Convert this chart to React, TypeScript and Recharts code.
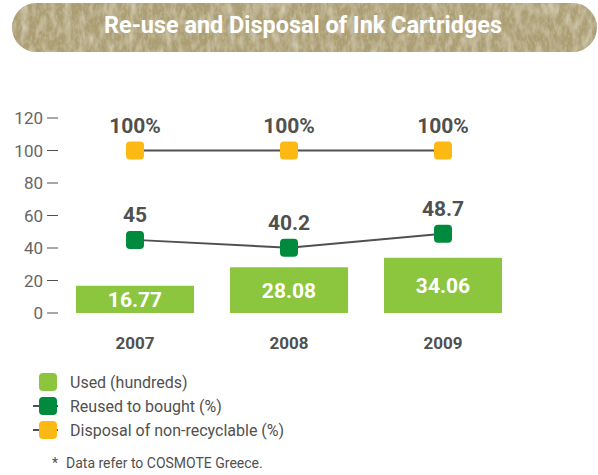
import { ComposedChart, Bar, Line, XAxis, YAxis, LabelList } from "recharts";

const years = ["2007", "2008", "2009"];
const usedHundreds = [16.77, 28.08, 34.06];
const reusedPct = [45, 40.2, 48.7];
const disposalPct = [100, 100, 100];
const yTicks = [0, 20, 40, 60, 80, 100, 120];

const LIGHT_GREEN = "#8cc63f";
const DARK_GREEN = "#008a3d";
const YELLOW = "#fcb813";
const GREY = "#505050";
const FONT = "Roboto, 'Open Sans', sans-serif";

const data = years.map((year, i) => ({
  year,
  used: usedHundreds[i],
  reused: reusedPct[i],
  disposal: disposalPct[i],
}));

const squareDot = (color: string) => (props: any) => {
  const { cx, cy, key } = props;
  if (cx == null || cy == null) return null;
  return <rect key={key} x={cx - 9} y={cy - 9} width={18} height={18} rx={4} fill={color} />;
};

const pointLabel = (suffix: string) => (props: any) => {
  const { x, y, value } = props;
  return (
    <text x={x} y={y - 25} textAnchor="middle" dominantBaseline="central" fill={GREY} fontSize={21} fontWeight={700} fontFamily={FONT}>
      {value}
      {suffix}
    </text>
  );
};

const YearTick = (props: any) => {
  const { x, y, payload } = props;
  return (
    <text x={x} y={y + 28} textAnchor="middle" dominantBaseline="central" fill={GREY} fontSize={17} fontWeight={700} fontFamily={FONT}>
      {payload.value}
    </text>
  );
};

// textured pill banner for the title
const Title = () => (
  <svg width={598} height={56} style={{ position: "absolute", left: 0, top: 0 }}>
    <defs>
      <filter id="lightGrain" x="0" y="0" width="100%" height="100%">
        <feTurbulence type="fractalNoise" baseFrequency="0.14 0.06" numOctaves={3} seed={4} />
        <feColorMatrix type="matrix" values="0 0 0 0 0.76  0 0 0 0 0.72  0 0 0 0 0.6  1.5 0 0 0 -0.6" />
        <feComposite in2="SourceGraphic" operator="in" />
      </filter>
      <filter id="darkGrain" x="0" y="0" width="100%" height="100%">
        <feTurbulence type="fractalNoise" baseFrequency="0.4 0.2" numOctaves={2} seed={11} />
        <feColorMatrix type="matrix" values="0 0 0 0 0.58  0 0 0 0 0.54  0 0 0 0 0.32  1.6 0 0 0 -0.75" />
        <feComposite in2="SourceGraphic" operator="in" />
      </filter>
      <clipPath id="pill">
        <rect x={12} y={3} width={585} height={49} rx={24.5} />
      </clipPath>
    </defs>
    <g clipPath="url(#pill)">
      <rect x={12} y={3} width={585} height={49} fill="#ab9d74" />
      <rect x={12} y={3} width={585} height={49} fill="#ab9d74" filter="url(#lightGrain)" />
      <rect x={12} y={3} width={585} height={49} fill="#ab9d74" filter="url(#darkGrain)" />
    </g>
    <text
      x={303}
      y={25}
      textAnchor="middle"
      dominantBaseline="central"
      fill="#ffffff"
      fontSize={24}
      fontWeight={700}
      fontFamily={FONT}
      textLength={398}
      lengthAdjust="spacingAndGlyphs"
    >
      Re-use and Disposal of Ink Cartridges
    </text>
  </svg>
);

const legendRows = [
  { label: "Used (hundreds)", color: LIGHT_GREEN, line: false },
  { label: "Reused to bought (%)", color: DARK_GREEN, line: true },
  { label: "Disposal of non-recyclable (%)", color: YELLOW, line: true },
];

const App = () => {
  return (
    <div style={{ position: "absolute", left: 0, top: 0, width: 598, height: 475, background: "#ffffff", fontFamily: FONT }}>
      <Title />
      <div style={{ position: "absolute", left: 0, top: 0 }}>
        <ComposedChart width={598} height={353} data={data} margin={{ top: 118, right: 78, left: 0, bottom: 0 }}>
          <XAxis dataKey="year" axisLine={false} tickLine={false} tickSize={0} height={40} tick={<YearTick />} />
          <YAxis
            domain={[0, 120]}
            ticks={yTicks}
            width={58}
            axisLine={false}
            tickLine={{ stroke: GREY, strokeWidth: 1 }}
            tickSize={11}
            tickMargin={4}
            tick={{ fill: "#666666", fontSize: 17, fontFamily: FONT }}
            interval={0}
          />
          <Bar dataKey="used" fill={LIGHT_GREEN} barSize={118} isAnimationActive={false}>
            <LabelList dataKey="used" position="center" fill="#ffffff" fontSize={21} fontWeight={700} fontFamily={FONT} />
          </Bar>
          <Line dataKey="reused" stroke={GREY} strokeWidth={2} dot={squareDot(DARK_GREEN)} activeDot={false} isAnimationActive={false}>
            <LabelList dataKey="reused" content={pointLabel("")} />
          </Line>
          <Line dataKey="disposal" stroke={GREY} strokeWidth={2} dot={squareDot(YELLOW)} activeDot={false} isAnimationActive={false}>
            <LabelList dataKey="disposal" content={pointLabel("%")} />
          </Line>
        </ComposedChart>
      </div>
      <div style={{ position: "absolute", left: 33, top: 370 }}>
        {legendRows.map((row) => (
          <div key={row.label} style={{ display: "flex", alignItems: "center", height: 24 }}>
            <svg width={30} height={20} style={{ marginRight: 7 }}>
              {row.line && <line x1={0} y1={10} x2={25} y2={10} stroke={GREY} strokeWidth={2} />}
              <rect x={6} y={1} width={18} height={18} rx={4} fill={row.color} />
            </svg>
            <span style={{ fontSize: 16, color: GREY }}>{row.label}</span>
          </div>
        ))}
      </div>
      <div style={{ position: "absolute", left: 52, top: 455, fontSize: 14, color: GREY }}>
        <span style={{ marginRight: 8 }}>*</span>Data refer to COSMOTE Greece.
      </div>
    </div>
  );
};

export default App;
